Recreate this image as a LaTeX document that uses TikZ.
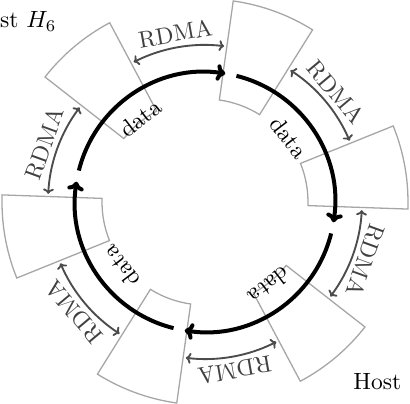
\documentclass[tikz,border=0pt]{standalone}
\usetikzlibrary{arrows.meta}
\begin{document}
\begin{tikzpicture}[x=0.4255pt,y=0.4255pt,
  hostbox/.style={draw=black!35, line width=0.55pt},
  dataarrow/.style={draw=black, line width=1.7pt, -{To[length=3.8pt,width=7pt]}},
  rdmaarrow/.style={draw=black!70, line width=0.8pt, {To[length=2.2pt,width=4.6pt]}-{To[length=2.2pt,width=4.6pt]}},
  datalabel/.style={inner sep=0pt},
  rdmalabel/.style={text=black!75, inner sep=0pt},
  hostlabel/.style={inner sep=0pt}]
\useasboundingbox (-205,-202) rectangle (205,202);
\clip (-205,-202) rectangle (205,202);
% host boxes (annular sectors)
\foreach \a in {70,130,190,250,310,370} {
  \draw[hostbox] (\a-12:103) arc[start angle=\a-12, end angle=\a+12, radius=103]
    -- (\a+12:203) arc[start angle=\a+12, end angle=\a-12, radius=203] -- cycle;
}
% data arrows
\foreach \k/\s in {1/76,2/-14,3/-104,4/166} {
  \coordinate (ds\k) at (\s:130);
  \draw[dataarrow] (ds\k) arc[start angle=\s, end angle=\s-85, radius=130];
  \node[datalabel, rotate=\s-38.5-90] (dl\k) at (\s-38.5:106) {data};
}
% RDMA arrows
\foreach \k/\m in {1/100,2/40,3/-20,4/-80,5/-140,6/160} {
  \coordinate (rs\k) at (\m-17:157);
  \draw[rdmaarrow] (rs\k) arc[start angle=\m-17, end angle=\m+17, radius=157];
  \node[rdmalabel, rotate=\m-90] (rl\k) at (\m:171) {RDMA};
}
% host labels
\node[hostlabel, anchor=base east] (h6) at (-148,174) {Host $H_6$};
\node[hostlabel, anchor=base west] (h3) at (148,-188) {Host};
\end{tikzpicture}
\end{document}
